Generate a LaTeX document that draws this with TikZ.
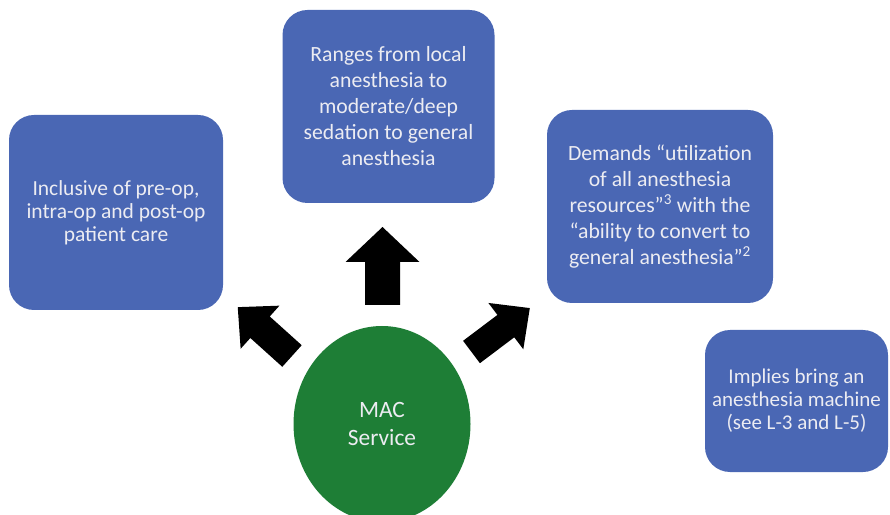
\documentclass[tikz,border=0pt]{standalone}
\usepackage{fontspec}
\setmainfont{Carlito}
\usetikzlibrary{shapes.geometric}

\definecolor{boxblue}{HTML}{4A67B4}
\definecolor{macgreen}{HTML}{1E7E36}
\definecolor{paletext}{RGB}{236,236,242}

\tikzset{
  infobox/.style={
    fill=boxblue, draw=none, rounded corners=25pt,
    align=center, text=paletext, inner sep=0pt,
    font=\fontsize{21.7}{26}\selectfont
  },
  tightbox/.style={
    infobox, font=\fontsize{21.5}{23}\selectfont
  },
  hub/.style={
    ellipse, fill=macgreen, draw=none, inner sep=0pt,
    minimum width=177pt, minimum height=196pt,
    align=center, text=paletext,
    font=\fontsize{23.4}{27.5}\selectfont
  },
  % solid block arrow pointing along +x: length, shaft half-width,
  % head half-width, head length
  pics/blockarrow/.style n args={4}{
    code={
      \fill[black] (0,-#2) -- (#1-#4,-#2) -- (#1-#4,-#3) -- (#1,0)
        -- (#1-#4,#3) -- (#1-#4,#2) -- (0,#2) -- cycle;
    }
  }
}

\begin{document}
\begin{tikzpicture}[x=1pt,y=1pt]
  \useasboundingbox (0,0) rectangle (890,514);
  \clip (0,0) rectangle (890,514);

  % central service node
  \node[hub] (mac) at (382,90) {MAC\\Service};

  % surrounding statements
  \node[tightbox, minimum width=214pt, minimum height=195pt]
    (scope) at (116,301.5)
    {Inclusive of pre-op,\\intra-op and post-op\\patient care};
  \node[infobox, minimum width=212pt, minimum height=193pt]
    (range) at (388.5,407.5)
    {Ranges from local\\anesthesia to\\moderate/deep\\sedation to general\\anesthesia};
  \node[infobox, minimum width=226pt, minimum height=193pt]
    (demand) at (660,307.5)
    {Demands “utilization\\of all anesthesia\\resources”\textsuperscript{3} with the\\“ability to convert to\\general anesthesia”\textsuperscript{2}};
  \node[tightbox, font=\fontsize{21}{23}\selectfont,
        minimum width=183pt, minimum height=142pt]
    (machine) at (796.5,113)
    {Implies bring an\\anesthesia machine\\(see L-3 and L-5)};

  % block arrows from the service towards the statements
  \coordinate (tailL) at (292,158);
  \coordinate (tailU) at (382.5,209);
  \coordinate (tailR) at (471.5,162);
  \path (tailL) pic[rotate=138] {blockarrow={73}{14.5}{29}{30}};
  \path (tailU) pic[rotate=90]  {blockarrow={78}{17.5}{37}{35}};
  \path (tailR) pic[rotate=37]  {blockarrow={73}{14}{29}{30}};
\end{tikzpicture}
\end{document}
